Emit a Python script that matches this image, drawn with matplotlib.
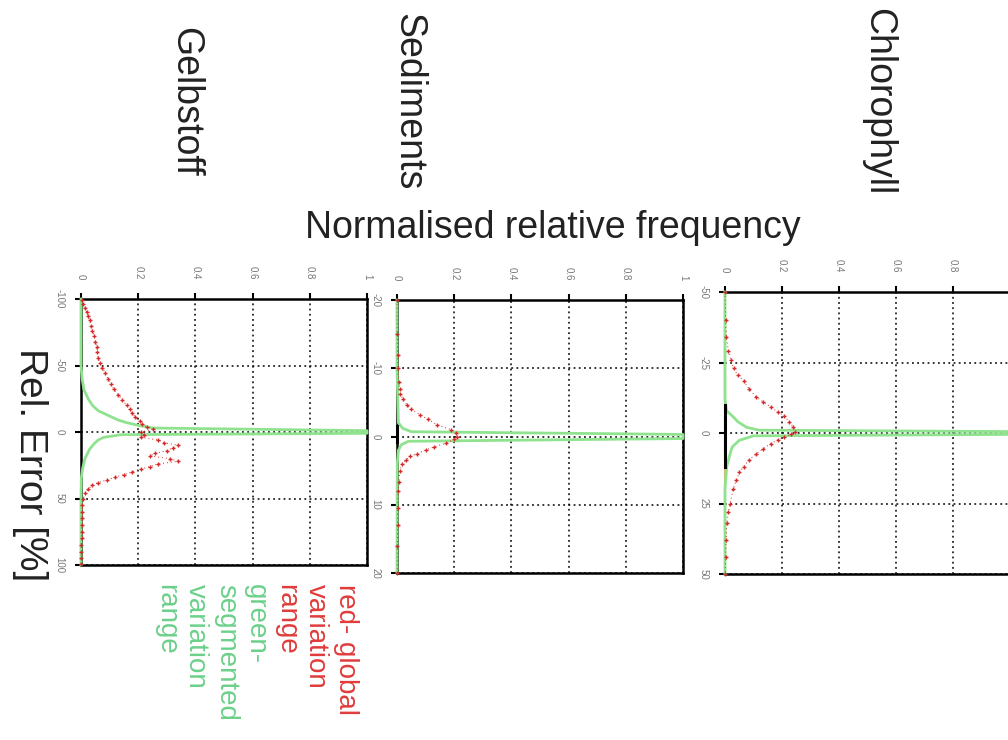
import matplotlib
matplotlib.use("Agg")
import matplotlib.pyplot as plt

plt.rcParams['font.family'] = ['Liberation Sans', 'DejaVu Sans']

# ---- data (rel. error [%] vs normalised relative frequency) ----
titles = ["Gelbstoff", "Sediments", "Chlorophyll"]
err_limits = [(-100, 100), (-20, 20), (-50, 50)]
err_ticks = [[-100, -50, 0, 50, 100], [-20, -10, 0, 10, 20], [-50, -25, 0, 25, 50]]
freq_ticks = [0, 0.2, 0.4, 0.6, 0.8, 1]
freq_ticklabels = ["0", "0.2", "0.4", "0.6", "0.8", "1"]

# Gelbstoff
gelb_red_err = [-99, -96, -93, -90, -87, -84, -80, -76, -72, -68, -64, -60, -56, -52, -48,
                -44, -40, -36, -32, -28, -24, -20, -17, -14, -11, -8, -6, -4, -2, 0, 2,
                4, 6, 8, 10, 12, 14, 16, 18, 20, 22, 24, 26, 28, 30, 32, 34, 36, 38, 40,
                43, 46, 50, 55, 60, 65, 70, 75, 80, 85, 90, 95, 99]
gelb_red_freq = [0.002, 0.008, 0.015, 0.02, 0.025, 0.03, 0.035, 0.04, 0.047, 0.05, 0.055,
                 0.057, 0.06, 0.065, 0.075, 0.085, 0.095, 0.105, 0.115, 0.13, 0.145, 0.16,
                 0.17, 0.18, 0.19, 0.205, 0.215, 0.23, 0.25, 0.21, 0.22,
                 0.21, 0.27, 0.29, 0.34, 0.32, 0.30, 0.26, 0.24, 0.31, 0.34, 0.27, 0.24,
                 0.21, 0.18, 0.15, 0.12, 0.09, 0.06, 0.04, 0.025, 0.015, 0.008, 0.005,
                 0.004, 0.003, 0.003, 0.002, 0.002, 0.001, 0.001, 0.001, 0.0]
gelb_green_err = [-100, -50, -40, -32, -25, -20, -16, -12, -9, -7, -5, -3, -1, 0, 1, 2, 4,
                  6, 9, 13, 20, 27, 35, 50, 100]
gelb_green_freq = [0, 0, 0.004, 0.01, 0.025, 0.04, 0.06, 0.1, 0.13, 0.16, 0.2, 0.25, 1.0,
                   1.0, 1.0, 0.14, 0.08, 0.06, 0.045, 0.03, 0.014, 0.006, 0.001, 0, 0]

# Sediments
sed_red_err = [-20, -15, -12, -10, -8, -7, -6.3, -5.5, -4.6, -4, -3.2, -2.5, -1.7, -1,
               -0.5, 0, 0.4, 1, 1.5, 2, 2.5, 2.9, 3.5, 4.1, 5, 6.6, 8, 10.5, 13, 16, 20]
sed_red_freq = [0.0, 0.001, 0.002, 0.003, 0.006, 0.01, 0.012, 0.02, 0.035, 0.05, 0.08,
                0.11, 0.14, 0.19, 0.205, 0.21, 0.2, 0.17, 0.13, 0.1, 0.07, 0.047, 0.03,
                0.017, 0.01, 0.006, 0.004, 0.002, 0.002, 0.001, 0.001]
sed_green_err = [-20, -10, -2, -1.2, -0.7, -0.3, 0.3, 0.7, 1.2, 2, 4, 20]
sed_green_freq = [0, 0, 0.005, 0.02, 0.05, 1.0, 1.0, 0.04, 0.015, 0.005, 0.001, 0]
sed_black_err = [-1.5, -0.5, 0.5, 0.8]
sed_black_freq = [0, 0, 0, 0]

# Chlorophyll
chl_red_err = [-50, -40, -34, -29, -26, -23, -20.5, -18.6, -15.5, -12.7, -11, -9.2, -7.5,
               -6.2, -4, -2.1, -0.3, 0.5, 1.4, 2.5, 3.8, 5.5, 7.3, 9.5, 12, 14, 16.7, 20,
               25, 28, 32, 38, 44, 50]
chl_red_freq = [0.0, 0.002, 0.005, 0.012, 0.02, 0.03, 0.045, 0.065, 0.085, 0.11, 0.135,
                0.16, 0.185, 0.206, 0.225, 0.24, 0.247, 0.23, 0.206, 0.185, 0.16, 0.135,
                0.11, 0.085, 0.065, 0.05, 0.04, 0.028, 0.018, 0.012, 0.006, 0.004, 0.002,
                0.001]
chl_green_err = [-50, -12, -8, -5.6, -4, -2, -1, -0.5, 0.5, 1, 2.6, 5, 7.3, 12, 20, 50]
chl_green_freq = [0, 0, 0.005, 0.03, 0.045, 0.076, 0.12, 1.0, 1.0, 0.1, 0.05, 0.025,
                  0.018, 0.006, 0, 0]
chl_black_err = [-10, 0, 12]
chl_black_freq = [0, 0, 0]

red_series = [(gelb_red_err, gelb_red_freq), (sed_red_err, sed_red_freq),
              (chl_red_err, chl_red_freq)]
green_series = [(gelb_green_err, gelb_green_freq), (sed_green_err, sed_green_freq),
                (chl_green_err, chl_green_freq)]
black_series = [None, (sed_black_err, sed_black_freq), (chl_black_err, chl_black_freq)]

RED = "#d42a2a"
GREEN = "#8fe38f"

fig = plt.figure(figsize=(10.08, 7.4), dpi=100)

# axes boxes in pixels: left, top, right, bottom
boxes = [(81, 299, 367, 565), (397, 300, 683, 573), (725, 292, 1010, 574)]
W, H = 1008.0, 740.0

for i, (l, t, r, b) in enumerate(boxes):
    ax = fig.add_axes([l / W, 1 - b / H, (r - l) / W, (b - t) / H])
    ax.set_xlim(0, 1)
    ax.set_ylim(err_limits[i][1], err_limits[i][0])

    ax.xaxis.tick_top()
    ax.set_xticks(freq_ticks)
    ax.set_xticklabels(freq_ticklabels, rotation=-90, fontsize=7, color="#777777")
    ax.set_yticks(err_ticks[i])
    ax.set_yticklabels([str(v) for v in err_ticks[i]], rotation=-90, fontsize=7,
                       color="#777777", va="center")
    ax.tick_params(axis="x", direction="out", length=4, width=1.5, color="black", pad=10)
    ax.tick_params(axis="y", direction="out", length=4, width=1.5, color="black", pad=8)
    ax.grid(True, color="black", linestyle=(0, (1.2, 2.2)), linewidth=1.1)
    for s in ax.spines.values():
        s.set_linewidth(1.8)
        s.set_color("black")
    if i == 2:
        ax.spines["left"].set_color("#d9b860")
        ax.spines["left"].set_linewidth(1.5)

    ge, gf = green_series[i]
    ax.plot(gf, ge, color=GREEN, lw=2.0, zorder=3, clip_on=False)
    if black_series[i] is not None:
        be, bf = black_series[i]
        ax.plot(bf, be, color="black", lw=2.2, zorder=4, clip_on=False)
    re_, rf = red_series[i]
    ax.plot(rf, re_, color=RED, lw=0.7, ls=(0, (1, 3)), marker="+", ms=3.5, mew=1.0,
            zorder=5, clip_on=False)

# panel titles (rotated)
title_x = [185, 408, 878]
for name, x in zip(titles, title_x):
    fig.text(x / W, 1 - 102 / H, name, rotation=-90, fontsize=27,
             ha="center", va="center", color="#222222")

fig.text(553 / W, 1 - 228 / H, "Normalised relative frequency", fontsize=27,
         ha="center", va="center", color="#222222")
fig.text(30 / W, 1 - 465 / H, "Rel. Error [%]", rotation=-90, fontsize=28,
         ha="center", va="center", color="#222222")

fig.text(359 / W, 1 - 584 / H, "red- global\nvariation\nrange", rotation=-90,
         fontsize=20, color="#e03c3c", ha="right", va="top",
         multialignment="left", linespacing=1.2)
fig.text(269 / W, 1 - 584 / H, "green-\nsegmented\nvariation\nrange", rotation=-90,
         fontsize=20, color="#6cd08a", ha="right", va="top",
         multialignment="left", linespacing=1.2)

fig.savefig("out.png", dpi=100)
plt.close(fig)
